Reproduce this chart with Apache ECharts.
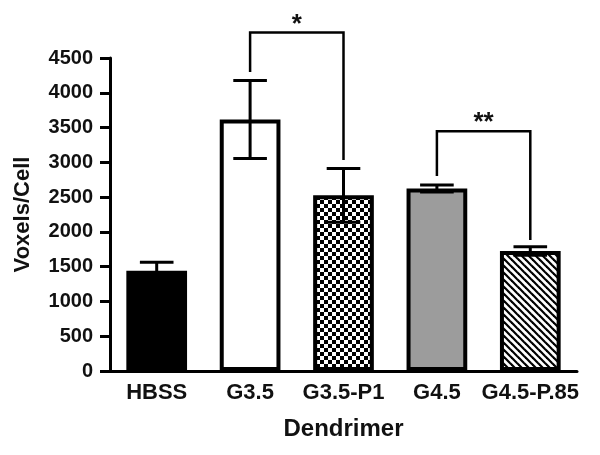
<!DOCTYPE html>
<html>
<head>
<meta charset="utf-8">
<script src="https://cdn.jsdelivr.net/npm/echarts@6/dist/echarts.min.js"></script>
<style>
html,body{margin:0;padding:0;background:#fff;}
#chart{width:600px;height:455px;}
</style>
</head>
<body>
<div id="chart"></div>
<script>
// ---- data ----
const categories = ['HBSS', 'G3.5', 'G3.5-P1', 'G4.5', 'G4.5-P.85'];
const means = [1440, 3615, 2525, 2625, 1725];
const errors = [125, 560, 385, 50, 60];
const yMin = 0, yMax = 4500, yStep = 500;
// significance brackets
const bracketFrom = [1, 3];
const bracketTo = [2, 4];
const bracketTop = [4866, 3448];
const bracketLeftEnd = [4300, 2802];
const bracketRightEnd = [3032, 1882];
const bracketLabels = ['*', '**'];

// ---- patterns ----
function checker() {
  const c = document.createElement('canvas');
  c.width = 8; c.height = 8;
  const g = c.getContext('2d');
  g.fillStyle = '#fff'; g.fillRect(0, 0, 8, 8);
  g.fillStyle = '#000';
  g.fillRect(0, 0, 4, 4); g.fillRect(4, 4, 4, 4);
  return c;
}
function hatch() {
  const s = 7;
  const c = document.createElement('canvas');
  c.width = s; c.height = s;
  const g = c.getContext('2d');
  g.fillStyle = '#fff'; g.fillRect(0, 0, s, s);
  g.strokeStyle = '#000'; g.lineWidth = 2.2;
  for (const o of [-s, 0, s]) {
    g.beginPath(); g.moveTo(o - 1, -1); g.lineTo(o + s + 1, s + 1); g.stroke();
  }
  return c;
}
const fills = [
  '#000',
  '#fff',
  { image: checker(), repeat: 'repeat' },
  '#9c9c9c',
  { image: hatch(), repeat: 'repeat' }
];

const font = "'Liberation Sans', Arial, sans-serif";
const chart = echarts.init(document.getElementById('chart'), null, { renderer: 'canvas' });

const option = {
  animation: false,
  backgroundColor: '#fff',
  grid: { left: 110, right: 23, top: 58, bottom: 84, containLabel: false },
  xAxis: {
    type: 'category',
    data: categories,
    axisLine: { lineStyle: { color: '#000', width: 3 } },
    axisTick: { alignWithLabel: true, length: 10, lineStyle: { color: '#000', width: 3 } },
    axisLabel: { interval: 0, hideOverlap: false, color: '#111', fontFamily: font, fontWeight: 'bold', fontSize: 22, margin: 11 },
    name: 'Dendrimer',
    nameLocation: 'middle',
    nameGap: 46,
    nameTextStyle: { color: '#111', fontFamily: font, fontWeight: 'bold', fontSize: 24 }
  },
  yAxis: {
    type: 'value',
    min: yMin, max: yMax, interval: yStep,
    splitLine: { show: false },
    axisLine: { show: true, lineStyle: { color: '#000', width: 3 } },
    axisTick: { show: true, length: 10, lineStyle: { color: '#000', width: 3 } },
    axisLabel: { formatter: v => String(v), color: '#111', fontFamily: font, fontWeight: 'bold', fontSize: 20, margin: 17 },
    name: 'Voxels/Cell',
    nameLocation: 'middle',
    nameGap: 76,
    nameTextStyle: { color: '#111', fontFamily: font, fontWeight: 'bold', fontSize: 22 }
  },
  series: [
    {
      type: 'bar',
      barWidth: '65%',
      data: means.map((v, i) => ({
        value: v,
        itemStyle: { color: fills[i], borderColor: '#000', borderWidth: 4 }
      })),
      z: 2
    },
    {
      type: 'custom',
      z: 5,
      data: means.map((m, i) => [i, m - errors[i], m + errors[i]]),
      encode: { x: 0, y: [1, 2] },
      renderItem: function (params, api) {
        const i = api.value(0);
        const lo = api.coord([i, api.value(1)]);
        const hi = api.coord([i, api.value(2)]);
        const half = api.size([1, 0])[0] * 0.18;
        const st = { stroke: '#000', lineWidth: 3 };
        return {
          type: 'group',
          children: [
            { type: 'line', shape: { x1: lo[0], y1: lo[1], x2: hi[0], y2: hi[1] }, style: st },
            { type: 'line', shape: { x1: hi[0] - half, y1: hi[1], x2: hi[0] + half, y2: hi[1] }, style: st },
            { type: 'line', shape: { x1: lo[0] - half, y1: lo[1], x2: lo[0] + half, y2: lo[1] }, style: st }
          ]
        };
      }
    },
    {
      type: 'custom',
      z: 6,
      clip: false,
      data: bracketFrom.map((f, k) => [f, bracketTo[k], bracketTop[k], bracketLeftEnd[k], bracketRightEnd[k], k]),
      encode: { x: [0, 1], y: [2, 3, 4] },
      renderItem: function (params, api) {
        const a = api.value(0), b = api.value(1);
        const pL = api.coord([a, api.value(3)]);
        const pTL = api.coord([a, api.value(2)]);
        const pTR = api.coord([b, api.value(2)]);
        const pR = api.coord([b, api.value(4)]);
        const k = api.value(5);
        return {
          type: 'group',
          children: [
            {
              type: 'polyline',
              shape: { points: [pL, pTL, pTR, pR] },
              style: { stroke: '#000', lineWidth: 2.5, fill: null }
            },
            {
              type: 'text',
              x: (pTL[0] + pTR[0]) / 2,
              y: pTL[1] + 5,
              style: {
                text: bracketLabels[k],
                fill: '#111',
                font: 'bold 26px ' + font,
                align: 'center',
                verticalAlign: 'bottom'
              }
            }
          ]
        };
      }
    }
  ]
};
chart.setOption(option);
</script>
</body>
</html>
